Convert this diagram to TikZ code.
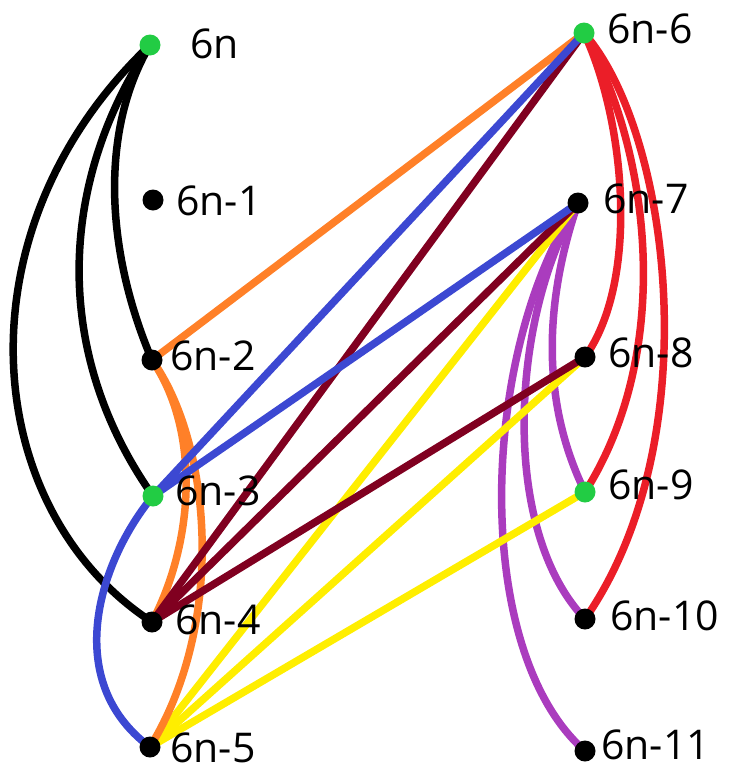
\documentclass[tikz,border=0pt]{standalone}
\usepackage{fontspec}
\setmainfont{Open Sans}
\usetikzlibrary{backgrounds}
\definecolor{dotgreen}{RGB}{34,204,68}
\definecolor{eorange}{RGB}{255,128,40}
\definecolor{eblue}{RGB}{60,72,210}
\definecolor{emaroon}{RGB}{128,0,32}
\definecolor{eyellow}{RGB}{255,238,0}
\definecolor{epurple}{RGB}{170,60,190}
\definecolor{ered}{RGB}{235,30,40}
\tikzset{
  dot/.style={circle,fill=black,inner sep=0pt,minimum size=21pt},
  gdot/.style={dot,fill=dotgreen},
  lab/.style={anchor=base west,inner sep=0pt,font=\fontsize{41}{41}\selectfont},
  edge/.style={line width=7.5pt,line cap=round}
}
\begin{document}
\begin{tikzpicture}[x=1pt,y=-1pt]
\useasboundingbox (0,0) rectangle (731,769);
% vertices
\node[gdot] (v0) at (150,45) {};
\node[dot]  (v1) at (153,200) {};
\node[dot]  (v2) at (152,360) {};
\node[gdot] (v3) at (153,496) {};
\node[dot]  (v4) at (152,622) {};
\node[dot]  (v5) at (150,747) {};
\node[gdot] (v6) at (584,33) {};
\node[dot]  (v7) at (578,203) {};
\node[dot]  (v8) at (585,357) {};
\node[gdot] (v9) at (585,492) {};
\node[dot]  (v10) at (585,619) {};
\node[dot]  (v11) at (585,751) {};
% labels
\node[lab] (l0) at (190,58) {6n};
\node[lab] (l1) at (176,215) {6n-1};
\node[lab] (l2) at (170,370) {6n-2};
\node[lab] (l3) at (175,505) {6n-3};
\node[lab] (l4) at (175,634) {6n-4};
\node[lab] (l5) at (170,762) {6n-5};
\node[lab] (l6) at (607,43) {6n-6};
\node[lab] (l7) at (603,213) {6n-7};
\node[lab] (l8) at (608,367) {6n-8};
\node[lab] (l9) at (608,499) {6n-9};
\node[lab] (l10) at (610,630) {6n-10};
\node[lab] (l11) at (601,759) {6n-11};
\begin{pgfonlayer}{background}
% black
\draw[edge,black] (v0.center) .. controls (100,130) and (105,250) .. (v2.center);
\draw[edge,black] (v0.center) .. controls (60,180) and (50,350) .. (v3.center);
\draw[edge,black] (v0.center) .. controls (-45,230) and (-20,510) .. (v4.center);
% red
\draw[edge,ered] (v6.center) .. controls (625,120) and (640,280) .. (v8.center);
\draw[edge,ered] (v6.center) .. controls (650,150) and (675,350) .. (v9.center);
\draw[edge,ered] (v6.center) .. controls (670,130) and (710,440) .. (v10.center);
% purple
\draw[edge,epurple] (v7.center) .. controls (545,300) and (540,400) .. (v9.center);
\draw[edge,epurple] (v7.center) .. controls (510,320) and (500,530) .. (v10.center);
\draw[edge,epurple] (v7.center) .. controls (480,350) and (470,650) .. (v11.center);
% yellow
\draw[edge,eyellow] (v5.center) -- (v7.center);
\draw[edge,eyellow] (v5.center) -- (v8.center);
\draw[edge,eyellow] (v5.center) -- (v9.center);
% orange
\draw[edge,eorange] (v2.center) -- (v6.center);
\draw[edge,eorange] (v2.center) .. controls (200,430) and (195,540) .. (v4.center);
\draw[edge,eorange] (v2.center) .. controls (210,440) and (228,620) .. (v5.center);
% maroon
\draw[edge,emaroon] (v4.center) -- (v6.center);
\draw[edge,emaroon] (v4.center) -- (v7.center);
\draw[edge,emaroon] (v4.center) -- (v8.center);
% blue
\draw[edge,eblue] (v3.center) -- (v6.center);
\draw[edge,eblue] (v3.center) -- (v7.center);
\draw[edge,eblue] (v3.center) .. controls (100,560) and (60,680) .. (v5.center);
\end{pgfonlayer}
\end{tikzpicture}
\end{document}
